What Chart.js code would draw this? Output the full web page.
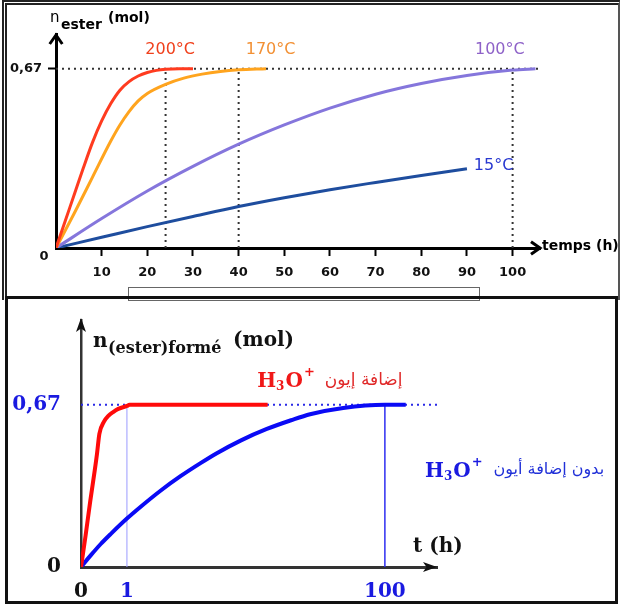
<!DOCTYPE html>
<html>
<head>
<meta charset="utf-8">
<script src="https://cdn.jsdelivr.net/npm/chart.js@4.4.1/dist/chart.umd.min.js"></script>
<style>
  html, body { margin: 0; padding: 0; background: #fff; }
  #page { position: relative; width: 621px; height: 605px; overflow: hidden; }
  canvas { position: absolute; left: 0; }
  #top { top: 0; }
  #bottom { top: 296px; }
  .frame { position: absolute; box-sizing: border-box; pointer-events: none; }
  #frameTop { left: 2px; top: 0; width: 618px; height: 300px; border-top: 5px double #222; border-left: 5px double #222; border-right: 2px solid #555; }
  #caption { left: 128px; top: 287px; width: 352px; height: 14px; border: 1px solid #666; background: #fff; }
  #frameBottom { left: 5px; top: 296px; width: 613px; height: 308px; border: 3px solid #111; background: transparent; }
</style>
</head>
<body>
<div id="page">
  <canvas id="top" width="621" height="296"></canvas>
  <div class="frame" id="frameTop"></div>
  <div class="frame" id="caption"></div>
  <canvas id="bottom" width="621" height="309"></canvas>
  <div class="frame" id="frameBottom"></div>
</div>
<script>
// ---------- data: top chart (temperature effect) ----------
const PLATEAU = 0.67;
const TOP_X_TICKS = [10, 20, 30, 40, 50, 60, 70, 80, 90, 100];
const TOP_Y_TICKS = [0.67];
const TOP_REF_T = [24, 40, 100];

const T_200 = [0, 2, 4, 6, 8, 10, 12, 14, 16, 18, 20, 22, 24, 27, 30];
const N_200 = [0, 0.1, 0.2, 0.3, 0.395, 0.475, 0.54, 0.59, 0.622, 0.643, 0.656, 0.664, 0.668, 0.67, 0.67];
const T_170 = [0, 4, 8, 12, 14, 16, 18, 20, 24, 28, 32, 36, 40, 46];
const N_170 = [0, 0.13, 0.265, 0.4, 0.46, 0.51, 0.55, 0.578, 0.612, 0.635, 0.65, 0.66, 0.666, 0.67];
const T_100 = [0, 10, 20, 30, 40, 50, 60, 70, 80, 90, 100, 105];
const N_100 = [0, 0.11, 0.213, 0.305, 0.388, 0.46, 0.523, 0.575, 0.615, 0.645, 0.665, 0.67];
const T_15 = [0, 10, 20, 30, 40, 50, 60, 70, 80, 90];
const N_15 = [0, 0.04, 0.08, 0.118, 0.155, 0.188, 0.218, 0.245, 0.271, 0.296];

// ---------- data: bottom chart (catalyst effect) ----------
const BOTTOM_X_TICKS = [0, 1, 100];
const BOTTOM_Y_TICKS = [0, 0.67];
const BOTTOM_REF_T = [1, 100];
const T_ACID = [0, 0.1, 0.2, 0.3, 0.35, 0.4, 0.5, 0.6, 0.7, 0.8, 1, 2, 10, 30, 55];
const N_ACID = [0, 0.13, 0.27, 0.4, 0.47, 0.55, 0.6, 0.625, 0.64, 0.652, 0.665, 0.67, 0.67, 0.67, 0.67];
const T_NOACID = [0, 0.22, 0.43, 0.65, 1, 6.4, 14, 21.7, 29.4, 35.5, 44.8, 54.7, 64, 71.3, 84, 100, 108];
const N_NOACID = [0, 0.05, 0.095, 0.137, 0.2, 0.25, 0.316, 0.376, 0.43, 0.47, 0.523, 0.57, 0.606, 0.631, 0.657, 0.67, 0.67];

// the t axis of the bottom figure is not to scale: 0..1 h gets its own stretch
const BREAK_T = 1;
const BREAK_FRAC = 0.129;

const toPoints = (xs, ys) => xs.map((x, i) => ({ x, y: ys[i] }));
const fmt = (v) => String(v).replace(".", ",");

class BrokenLinearScale extends Chart.LinearScale {
  getPixelForValue(value) {
    if (value === null || value === undefined) return NaN;
    let dec;
    if (value <= BREAK_T) {
      dec = ((value - this.min) / (BREAK_T - this.min)) * BREAK_FRAC;
    } else {
      dec = BREAK_FRAC + ((value - BREAK_T) / (this.max - BREAK_T)) * (1 - BREAK_FRAC);
    }
    return this.getPixelForDecimal(dec);
  }
  getValueForPixel(pixel) {
    const dec = this.getDecimalForPixel(pixel);
    if (dec <= BREAK_FRAC) return this.min + (dec / BREAK_FRAC) * (BREAK_T - this.min);
    return BREAK_T + ((dec - BREAK_FRAC) / (1 - BREAK_FRAC)) * (this.max - BREAK_T);
  }
}
BrokenLinearScale.id = "brokenLinear";
BrokenLinearScale.defaults = Chart.LinearScale.defaults;
Chart.register(BrokenLinearScale);

// ---------- drawing helpers ----------
function chevron(ctx, x, y, dir, size, width, color) {
  ctx.save();
  ctx.strokeStyle = color;
  ctx.lineWidth = width;
  ctx.beginPath();
  if (dir === "up") {
    ctx.moveTo(x - size * 0.7, y + size);
    ctx.lineTo(x, y);
    ctx.lineTo(x + size * 0.7, y + size);
  } else {
    ctx.moveTo(x - size, y - size * 0.7);
    ctx.lineTo(x, y);
    ctx.lineTo(x - size, y + size * 0.7);
  }
  ctx.stroke();
  ctx.restore();
}

function triangle(ctx, x, y, dir, len, half, color) {
  ctx.save();
  ctx.fillStyle = color;
  ctx.beginPath();
  if (dir === "up") {
    ctx.moveTo(x, y);
    ctx.lineTo(x - half, y + len);
    ctx.lineTo(x, y + len * 0.75);
    ctx.lineTo(x + half, y + len);
  } else {
    ctx.moveTo(x, y);
    ctx.lineTo(x - len, y - half);
    ctx.lineTo(x - len * 0.75, y);
    ctx.lineTo(x - len, y + half);
  }
  ctx.closePath();
  ctx.fill();
  ctx.restore();
}

function text(ctx, str, x, y, font, color, align, baseline) {
  ctx.font = font;
  ctx.fillStyle = color;
  ctx.textAlign = align || "left";
  ctx.textBaseline = baseline || "alphabetic";
  ctx.fillText(str, x, y);
  return ctx.measureText(str).width;
}

// H3O+ with subscript and superscript, returns the right edge
function hydronium(ctx, x, y, color) {
  const big = "bold 20px 'DejaVu Serif'";
  const small = "bold 12px 'DejaVu Serif'";
  let cx = x;
  cx += text(ctx, "H", cx, y, big, color);
  cx += text(ctx, "3", cx, y + 3, small, color) + 1;
  cx += text(ctx, "O", cx, y, big, color) + 1;
  cx += text(ctx, "+", cx, y - 11, "bold 13px 'DejaVu Serif'", color);
  return cx;
}

// ---------- top chart ----------
const topLabels = [
  { text: "200°C", t: 25, n: 0.74, color: "#f0401c", align: "center" },
  { text: "170°C", t: 47, n: 0.74, color: "#f29034", align: "center" },
  { text: "100°C", t: 97.2, n: 0.74, color: "#8e62c8", align: "center" },
  { text: "15°C", t: 91.5, n: 0.307, color: "#2838d0", align: "left" },
];

const topDecor = {
  id: "topDecor",
  afterDraw(chart) {
    const { ctx, chartArea: a, scales } = chart;
    chevron(ctx, a.left, a.top + 1, "up", 9, 3, "#000");
    chevron(ctx, a.right, a.bottom, "right", 9, 3, "#000");
    const font = "16px 'DejaVu Sans'";
    topLabels.forEach((l) => {
      text(ctx, l.text, scales.x.getPixelForValue(l.t), scales.y.getPixelForValue(l.n), font, l.color, l.align, "middle");
    });
    text(ctx, "0", a.left - 12, a.bottom + 9, "bold 13px 'DejaVu Sans'", "#111", "center", "middle");
    text(ctx, "n", a.left - 6, 22, "15px 'DejaVu Sans'", "#000");
    text(ctx, "ester", a.left + 5, 29, "bold 14px 'DejaVu Sans'", "#000");
    text(ctx, "(mol)", a.left + 52, 22, "bold 14px 'DejaVu Sans'", "#000");
    text(ctx, "temps (h)", a.right + 2, a.bottom - 2, "bold 14px 'DejaVu Sans'", "#000", "left", "middle");
  },
};

const refStyle = { borderColor: "#333", borderWidth: 2, borderDash: [2, 4], pointRadius: 0, order: 2 };
const curveStyle = (color) => ({ borderColor: color, borderWidth: 3, pointRadius: 0, cubicInterpolationMode: "monotone", order: 1 });

new Chart(document.getElementById("top"), {
  type: "line",
  data: {
    datasets: [
      { ...refStyle, data: [{ x: 0, y: PLATEAU }, { x: 106, y: PLATEAU }] },
      ...TOP_REF_T.map((t) => ({ ...refStyle, data: [{ x: t, y: 0 }, { x: t, y: PLATEAU }] })),
      { ...curveStyle("#ff3b1f"), data: toPoints(T_200, N_200) },
      { ...curveStyle("#ffa41e"), data: toPoints(T_170, N_170) },
      { ...curveStyle("#8576dc"), data: toPoints(T_100, N_100) },
      { ...curveStyle("#1e4d9e"), data: toPoints(T_15, N_15) },
    ],
  },
  options: {
    responsive: false,
    animation: false,
    layout: { padding: { top: 34, right: 81, bottom: 8, left: 0 } },
    plugins: { legend: { display: false }, tooltip: { enabled: false } },
    scales: {
      x: {
        type: "linear",
        min: 0,
        max: 106,
        afterFit: (s) => { s.height = 40; },
        afterBuildTicks: (s) => { s.ticks = TOP_X_TICKS.map((v) => ({ value: v })); },
        border: { display: true, color: "#000", width: 3 },
        grid: { drawOnChartArea: false, drawTicks: true, tickLength: 8, tickWidth: 2, tickColor: "#000" },
        ticks: { color: "#111", padding: 9, maxRotation: 0, font: { family: "DejaVu Sans", size: 13, weight: "bold" } },
      },
      y: {
        type: "linear",
        min: 0,
        max: 0.8,
        afterFit: (s) => { s.width = 56; },
        afterBuildTicks: (s) => { s.ticks = TOP_Y_TICKS.map((v) => ({ value: v })); },
        border: { display: true, color: "#000", width: 3 },
        grid: { drawOnChartArea: false, drawTicks: true, tickLength: 8, tickWidth: 2, tickColor: "#000" },
        ticks: { color: "#111", padding: 6, callback: (v) => fmt(v), font: { family: "DejaVu Sans", size: 13, weight: "bold" } },
      },
    },
  },
  plugins: [topDecor],
});

// ---------- bottom chart ----------
const bottomDecor = {
  id: "bottomDecor",
  afterDraw(chart) {
    const { ctx, chartArea: a, scales } = chart;
    triangle(ctx, a.left, a.top - 2, "up", 14, 5, "#111");
    triangle(ctx, a.right, a.bottom, "right", 14, 5, "#111");

    text(ctx, "n", a.left + 12, 51, "bold 20px 'DejaVu Serif'", "#111");
    text(ctx, "(ester)formé", a.left + 27, 57, "bold 16px 'DejaVu Serif'", "#111");
    text(ctx, "(mol)", a.left + 152, 50, "bold 20px 'DejaVu Serif'", "#111");
    text(ctx, "t (h)", a.right - 24, 256, "bold 20px 'DejaVu Serif'", "#111");

    const red = "#f01818";
    const blue = "#1a1ae0";
    let end = hydronium(ctx, scales.x.getPixelForValue(51), scales.y.getPixelForValue(0.742), red);
    text(ctx, "إضافة إيون", end + 10, scales.y.getPixelForValue(0.77), "17px 'DejaVu Sans'", "#e02828", "left", "middle");
    end = hydronium(ctx, scales.x.getPixelForValue(115.4), scales.y.getPixelForValue(0.371), blue);
    text(ctx, "بدون إضافة أيون", end + 11, scales.y.getPixelForValue(0.4), "16px 'DejaVu Sans'", "#2030d8", "left", "middle");
  },
};

new Chart(document.getElementById("bottom"), {
  type: "line",
  data: {
    datasets: [
      { borderColor: "#2a2ae6", borderWidth: 2, borderDash: [2, 4], pointRadius: 0, order: 2, data: [{ x: 0, y: PLATEAU }, { x: 120, y: PLATEAU }] },
      { borderColor: "#9a9aff", borderWidth: 1, pointRadius: 0, order: 2, data: [{ x: BOTTOM_REF_T[0], y: 0 }, { x: BOTTOM_REF_T[0], y: PLATEAU }] },
      { borderColor: "#2e2ef0", borderWidth: 1.5, pointRadius: 0, order: 2, data: [{ x: BOTTOM_REF_T[1], y: 0 }, { x: BOTTOM_REF_T[1], y: PLATEAU }] },
      { borderColor: "#ff0a0a", borderWidth: 4, pointRadius: 0, cubicInterpolationMode: "monotone", order: 1, data: toPoints(T_ACID, N_ACID) },
      { borderColor: "#0a0af5", borderWidth: 4, pointRadius: 0, cubicInterpolationMode: "monotone", order: 1, data: toPoints(T_NOACID, N_NOACID) },
    ],
  },
  options: {
    responsive: false,
    animation: false,
    layout: { padding: { top: 18, right: 184, bottom: 8, left: 0 } },
    plugins: { legend: { display: false }, tooltip: { enabled: false } },
    scales: {
      x: {
        type: "brokenLinear",
        min: 0,
        max: 120,
        afterFit: (s) => { s.height = 30; },
        afterBuildTicks: (s) => { s.ticks = BOTTOM_X_TICKS.map((v) => ({ value: v })); },
        border: { display: true, color: "#333", width: 3 },
        grid: { display: false },
        ticks: {
          padding: 5,
          maxRotation: 0,
          autoSkip: false,
          color: (c) => (c.tick && c.tick.value === 0 ? "#111" : "#1a1ae0"),
          font: { family: "DejaVu Serif", size: 20, weight: "bold" },
        },
      },
      y: {
        type: "linear",
        min: 0,
        max: 1.02,
        afterFit: (s) => { s.width = 81; },
        afterBuildTicks: (s) => { s.ticks = BOTTOM_Y_TICKS.map((v) => ({ value: v })); },
        border: { display: true, color: "#333", width: 2.5 },
        grid: { display: false },
        ticks: {
          padding: 12,
          callback: (v) => fmt(v),
          color: (c) => (c.tick && c.tick.value === 0 ? "#111" : "#1a1ae0"),
          font: { family: "DejaVu Serif", size: 20, weight: "bold" },
        },
      },
    },
  },
  plugins: [bottomDecor],
});
</script>
</body>
</html>
